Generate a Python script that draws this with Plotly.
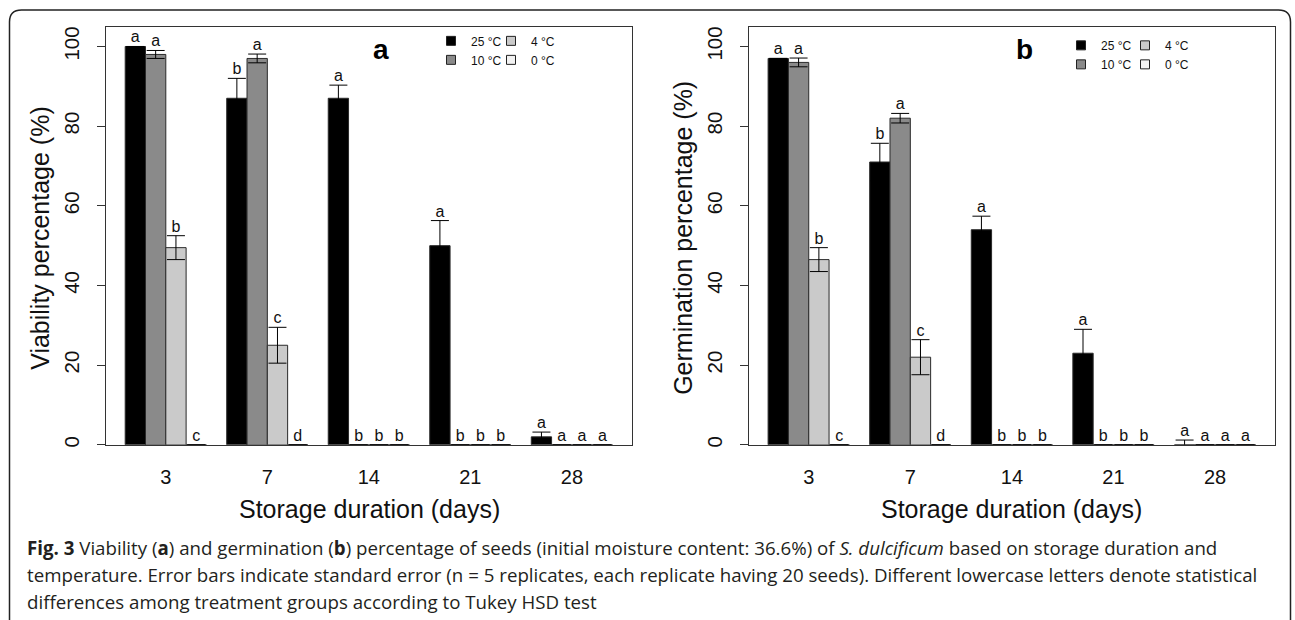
import plotly.graph_objects as go

W, H = 1295, 620

# ---------------- data ----------------
days = ["3", "7", "14", "21", "28"]
temps = ["25 °C", "10 °C", "4 °C", "0 °C"]
colors = ["#000000", "#8a8a8a", "#cacaca", "#f2f2f2"]

# Panel a: viability (%)
via_25 = [100, 87, 87, 50, 2]
via_25_se = [0, 5, 3.3, 6.3, 1.2]
via_10 = [98, 97, 0, 0, 0]
via_10_se = [1, 1.1, 0, 0, 0]
via_4 = [49.5, 25, 0, 0, 0]
via_4_se = [3, 4.5, 0, 0, 0]
via_0 = [0, 0, 0, 0, 0]
via_0_se = [0, 0, 0, 0, 0]
via_25_let = ["a", "b", "a", "a", "a"]
via_10_let = ["a", "a", "b", "b", "a"]
via_4_let = ["b", "c", "b", "b", "a"]
via_0_let = ["c", "d", "b", "b", "a"]

# Panel b: germination (%)
ger_25 = [97, 71, 54, 23, 0]
ger_25_se = [0, 4.7, 3.4, 6, 1.2]
ger_10 = [96, 82, 0, 0, 0]
ger_10_se = [1.1, 1.2, 0, 0, 0]
ger_4 = [46.5, 22, 0, 0, 0]
ger_4_se = [3, 4.4, 0, 0, 0]
ger_0 = [0, 0, 0, 0, 0]
ger_0_se = [0, 0, 0, 0, 0]
ger_25_let = ["a", "b", "a", "a", "a"]
ger_10_let = ["a", "a", "b", "b", "a"]
ger_4_let = ["b", "c", "b", "b", "a"]
ger_0_let = ["c", "d", "b", "b", "a"]

yticks = [0, 20, 40, 60, 80, 100]

panels = [
    dict(xa="x", ya="y",
         vals=[via_25, via_10, via_4, via_0],
         ses=[via_25_se, via_10_se, via_4_se, via_0_se],
         lets=[via_25_let, via_10_let, via_4_let, via_0_let],
         legends=["legend", "legend", "legend2", "legend2"]),
    dict(xa="x2", ya="y2",
         vals=[ger_25, ger_10, ger_4, ger_0],
         ses=[ger_25_se, ger_10_se, ger_4_se, ger_0_se],
         lets=[ger_25_let, ger_10_let, ger_4_let, ger_0_let],
         legends=["legend3", "legend3", "legend4", "legend4"]),
]

LET_FONT = dict(family="Liberation Sans, Arial", size=16, color="#111")
fig = go.Figure()

for p in panels:
    for i, t in enumerate(temps):
        fig.add_trace(go.Bar(
            x=days, y=p["vals"][i], name=t, xaxis=p["xa"], yaxis=p["ya"],
            marker=dict(color=colors[i], line=dict(color="#2a2a2a", width=1)),
            error_y=dict(type="data", array=p["ses"][i], symmetric=True,
                         color="#000", thickness=1, width=9),
            showlegend=False, cliponaxis=False,
        ))
    for i, t in enumerate(temps):
        tops = [v + s for v, s in zip(p["vals"][i], p["ses"][i])]
        fig.add_trace(go.Scatter(
            x=days, y=tops, mode="text", text=p["lets"][i],
            textposition="top center", textfont=LET_FONT,
            xaxis=p["xa"], yaxis=p["ya"], showlegend=False,
            cliponaxis=False, hoverinfo="skip",
        ))
    # legend entries (on hidden helper axes)
    for i, t in enumerate(temps):
        fig.add_trace(go.Scatter(
            x=[None], y=[None], mode="markers", name=t,
            marker=dict(symbol="square", size=9, color=colors[i],
                        line=dict(color="#222", width=1)),
            xaxis="x3", yaxis="y3", legend=p["legends"][i],
        ))

def px_x(v):
    return v / W

def px_y(v):
    return 1 - v / H

ydom = [px_y(447), px_y(26.7)]
axis_common = dict(showline=True, mirror=True, linecolor="#333", linewidth=1.2,
                   showgrid=False, zeroline=False)
xcommon = dict(axis_common, type="category", range=[-0.592, 4.592],
               ticks="outside", ticklen=14, tickcolor="rgba(0,0,0,0)",
               tickfont=dict(family="Liberation Sans, Arial", size=20, color="#111"))
ycommon = dict(axis_common, range=[0, 105], tickvals=yticks, ticks="outside",
               ticklen=8, tickcolor="#333", tickangle=-90, ticklabelstandoff=9,
               tickfont=dict(family="Liberation Sans, Arial", size=20.5, color="#111"))

leg_common = dict(font=dict(family="Liberation Sans, Arial", size=12, color="#111"),
                  bgcolor="rgba(0,0,0,0)", itemwidth=30, tracegroupgap=0,
                  xanchor="left", yanchor="top", orientation="v")

fig.update_layout(
    width=W, height=H, margin=dict(l=0, r=0, t=0, b=0),
    paper_bgcolor="white", plot_bgcolor="white",
    barmode="group", bargap=0.2, bargroupgap=0,
    scattermode="group", scattergap=0.2,
    xaxis=dict(xcommon, domain=[px_x(105.7), px_x(632)], anchor="y"),
    yaxis=dict(ycommon, domain=ydom, anchor="x"),
    xaxis2=dict(xcommon, domain=[px_x(748.6), px_x(1275.2)], anchor="y2"),
    yaxis2=dict(ycommon, domain=ydom, anchor="x2"),
    xaxis3=dict(domain=[0, 0.001], visible=False, anchor="y3"),
    yaxis3=dict(domain=[0, 0.001], visible=False, anchor="x3"),
    legend=dict(leg_common, x=px_x(431), y=px_y(26.5)),
    legend2=dict(leg_common, x=px_x(491), y=px_y(26.5)),
    legend3=dict(leg_common, x=px_x(1061), y=px_y(31)),
    legend4=dict(leg_common, x=px_x(1125), y=px_y(31)),
    showlegend=True,
)

TITLE_FONT = dict(family="Liberation Sans, Arial", size=25, color="#111")
ann = [
    dict(text="Viability percentage (%)", x=px_x(40), y=px_y(239), textangle=-90, font=TITLE_FONT),
    dict(text="Germination percentage (%)", x=px_x(683), y=px_y(239), textangle=-90, font=TITLE_FONT),
    dict(text="Storage duration (days)", x=px_x(369), y=px_y(511.7), font=TITLE_FONT),
    dict(text="Storage duration (days)", x=px_x(1012), y=px_y(511.7), font=TITLE_FONT),
    dict(text="<b>a</b>", x=px_x(381), y=px_y(50), font=dict(family="Liberation Sans, Arial", size=28, color="#000")),
    dict(text="<b>b</b>", x=px_x(1024), y=px_y(50), font=dict(family="Liberation Sans, Arial", size=28, color="#000")),
]
for a in ann:
    fig.add_annotation(xref="paper", yref="paper", showarrow=False,
                       xanchor="center", yanchor="middle", **a)

CAP_FONT = dict(family="Open Sans, Noto Sans, sans-serif", size=18.7, color="#231f20")
caption = [
    "<b>Fig. 3</b> Viability (<b>a</b>) and germination (<b>b</b>) percentage of seeds (initial moisture content: 36.6%) of <i>S. dulcificum</i> based on storage duration and",
    "temperature. Error bars indicate standard error (n = 5 replicates, each replicate having 20 seeds). Different lowercase letters denote statistical",
    "differences among treatment groups according to Tukey HSD test",
]
for k, line in enumerate(caption):
    fig.add_annotation(xref="paper", yref="paper", showarrow=False, text=line,
                       x=px_x(25), y=px_y(550 + 27 * k), xanchor="left", yanchor="middle",
                       align="left", font=CAP_FONT)

# card border with rounded top corners
x0, x1, yt, r = 9.5, 1290.5, 10, 12
path = (f"M {px_x(x0)},{px_y(H + 20)} L {px_x(x0)},{px_y(yt + r)} "
        f"Q {px_x(x0)},{px_y(yt)} {px_x(x0 + r)},{px_y(yt)} "
        f"L {px_x(x1 - r)},{px_y(yt)} Q {px_x(x1)},{px_y(yt)} {px_x(x1)},{px_y(yt + r)} "
        f"L {px_x(x1)},{px_y(H + 20)}")
fig.add_shape(type="path", path=path, xref="paper", yref="paper",
              line=dict(color="#222", width=1.5))

fig.write_html("out.html", config={"displayModeBar": False},
               post_script="document.body.style.margin='0';document.body.style.overflow='hidden';")
